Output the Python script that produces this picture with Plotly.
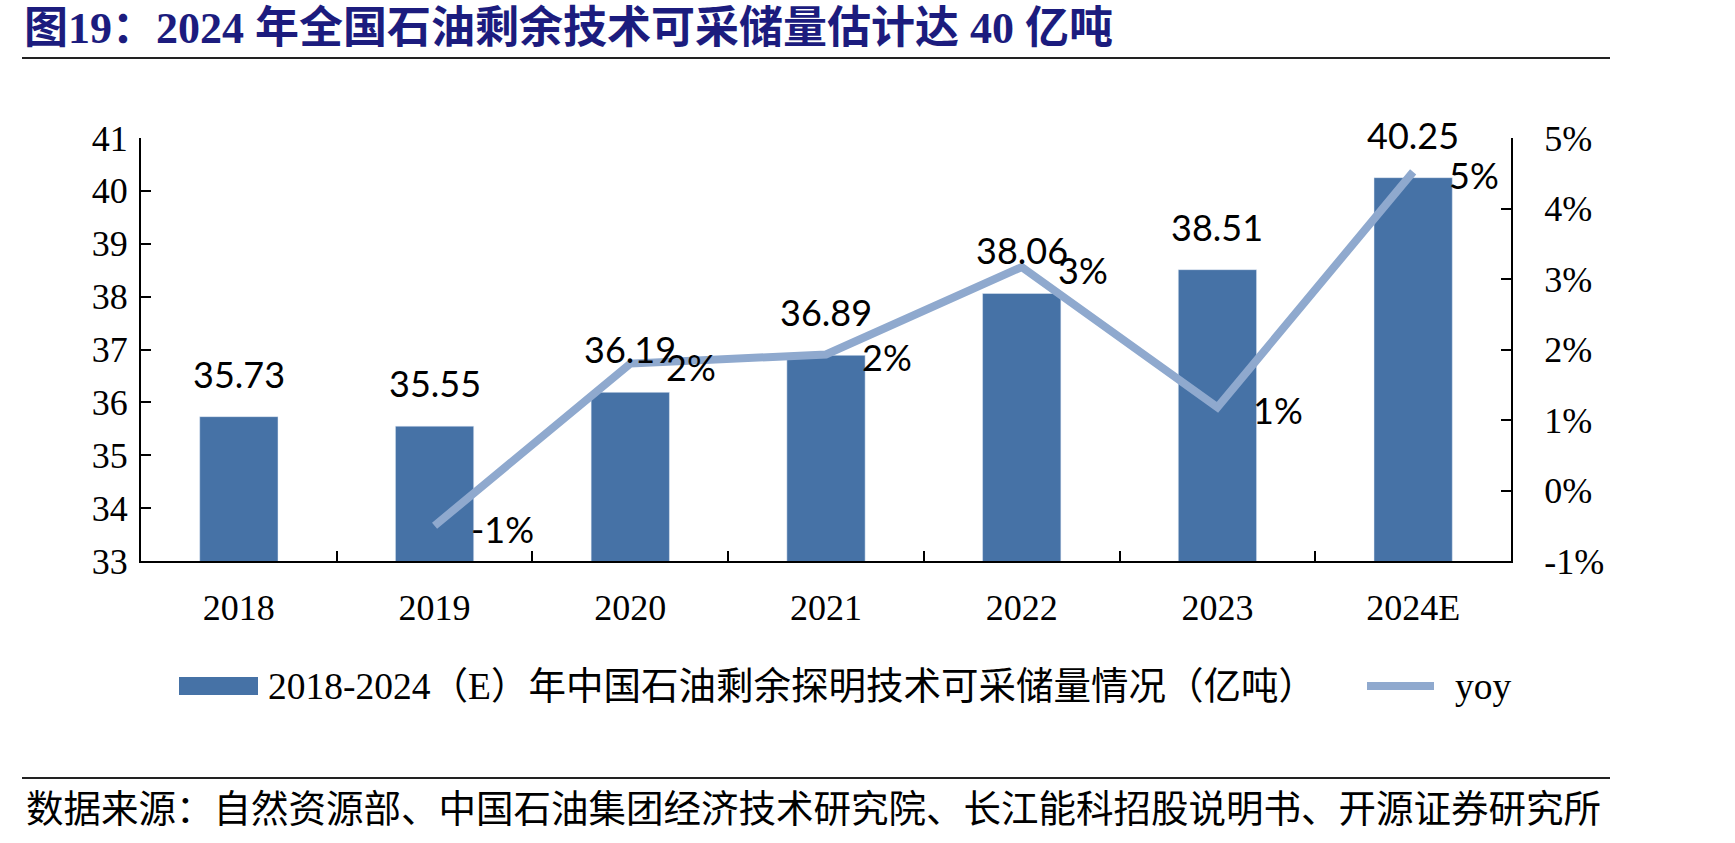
import plotly.graph_objects as go

# ---- data ----
categories = ["2018", "2019", "2020", "2021", "2022", "2023", "2024E"]
reserves = [35.73, 35.55, 36.19, 36.89, 38.06, 38.51, 40.25]
yoy_categories = ["2019", "2020", "2021", "2022", "2023", "2024E"]
yoy = [-0.0050, 0.0180, 0.0193, 0.0317, 0.0118, 0.0452]
yoy_labels = ["-1%", "2%", "2%", "3%", "1%", "5%"]
left_ticks = [33, 34, 35, 36, 37, 38, 39, 40, 41]
right_ticks = [-0.01, 0.0, 0.01, 0.02, 0.03, 0.04, 0.05]
right_tick_text = ["-1%", "0%", "1%", "2%", "3%", "4%", "5%"]
bar_name = "2018-2024（E）年中国石油剩余探明技术可采储量情况（亿吨）"
line_name = "yoy"
title_text = "图19：2024 年全国石油剩余技术可采储量估计达 40 亿吨"
source_text = "数据来源：自然资源部、中国石油集团经济技术研究院、长江能科招股说明书、开源证券研究所"

# ---- layout geometry (pixels) ----
W, H = 1735, 843
ML, MR, MT, MB = 141, 224, 138, 282
PW, PH = W - ML - MR, H - MT - MB

def px(x):
    return (x - ML) / PW

def py(y):
    return (H - MB - y) / PH

BAR_COLOR = "#4672A6"
LINE_COLOR = "#8FA9CE"
SERIF = "Liberation Serif, Noto Sans CJK SC"
SANS = "Lato, Liberation Sans"

fig = go.Figure()
fig.add_trace(go.Bar(x=categories, y=reserves, marker_color=BAR_COLOR,
                     name=bar_name, showlegend=False))
fig.add_trace(go.Scatter(x=yoy_categories, y=yoy, yaxis="y2", mode="lines",
                         line=dict(color=LINE_COLOR, width=8), name=line_name,
                         showlegend=False))

annotations = []
for c, v in zip(categories, reserves):
    annotations.append(dict(x=categories.index(c), y=v, xref="x", yref="y",
                            text=f"{v:.2f}",
                            showarrow=False, yanchor="middle", yshift=43,
                            font=dict(family=SANS, size=36, color="#000")))
for c, v, t in zip(yoy_categories, yoy, yoy_labels):
    annotations.append(dict(x=categories.index(c), y=v, xref="x", yref="y2",
                            text=t,
                            showarrow=False, xanchor="left", yanchor="middle",
                            xshift=34, yshift=-3,
                            font=dict(family=SANS, size=36, color="#000")))

# title
annotations.append(dict(x=px(22), y=py(28), xref="paper", yref="paper",
                        text=f"<b>{title_text}</b>", showarrow=False,
                        xanchor="left", yanchor="middle",
                        font=dict(family=SERIF, size=44, color="#1C1C7E")))
# source
annotations.append(dict(x=px(24), y=py(809), xref="paper", yref="paper",
                        text=source_text, showarrow=False,
                        xanchor="left", yanchor="middle",
                        font=dict(family=SERIF, size=37.5, color="#000")))
# legend texts
annotations.append(dict(x=px(266), y=py(686), xref="paper", yref="paper",
                        text=bar_name, showarrow=False,
                        xanchor="left", yanchor="middle",
                        font=dict(family=SERIF, size=37.5, color="#000")))
annotations.append(dict(x=px(1453), y=py(686), xref="paper", yref="paper",
                        text=line_name, showarrow=False,
                        xanchor="left", yanchor="middle",
                        font=dict(family=SERIF, size=37.5, color="#000")))

shapes = [
    dict(type="line", xref="paper", yref="paper", x0=px(22), x1=px(1610),
         y0=py(58), y1=py(58), line=dict(color="#222", width=2)),
    dict(type="line", xref="paper", yref="paper", x0=px(22), x1=px(1610),
         y0=py(778), y1=py(778), line=dict(color="#222", width=2)),
    dict(type="rect", xref="paper", yref="paper", x0=px(179), x1=px(258),
         y0=py(677), y1=py(695), fillcolor=BAR_COLOR, line=dict(width=0)),
    dict(type="line", xref="paper", yref="paper", x0=px(1367), x1=px(1434),
         y0=py(686), y1=py(686), line=dict(color=LINE_COLOR, width=8)),
]

tickfont = dict(family=SERIF, size=36, color="#000")
fig.update_layout(
    width=W, height=H,
    margin=dict(l=ML, r=MR, t=MT, b=MB, pad=0),
    paper_bgcolor="white", plot_bgcolor="white",
    bargap=0.6,
    showlegend=False,
    xaxis=dict(type="category", range=[-0.5, len(categories) - 0.5],
               showline=True, linecolor="#000", linewidth=2,
               ticks="inside", tickson="boundaries", ticklen=10, tickwidth=2,
               tickcolor="#000", tickfont=tickfont, showgrid=False,
               tickangle=0, ticklabelstandoff=14, fixedrange=True),
    yaxis=dict(range=[33, 41], tickvals=left_ticks, showline=True,
               linecolor="#000",
               linewidth=2, ticks="inside", ticklen=10, tickwidth=2,
               tickcolor="#000", tickfont=tickfont, showgrid=False,
               zeroline=False, ticklabelstandoff=4),
    yaxis2=dict(range=[-0.01, 0.05], tickvals=right_ticks,
                ticktext=right_tick_text,
                overlaying="y", side="right", showline=True, linecolor="#000",
                linewidth=2, ticks="inside", ticklen=10, tickwidth=2,
                tickcolor="#000", tickfont=tickfont, showgrid=False,
                zeroline=False, ticklabelstandoff=24),
    annotations=annotations,
    shapes=shapes,
)

fig.write_html("out.html")
